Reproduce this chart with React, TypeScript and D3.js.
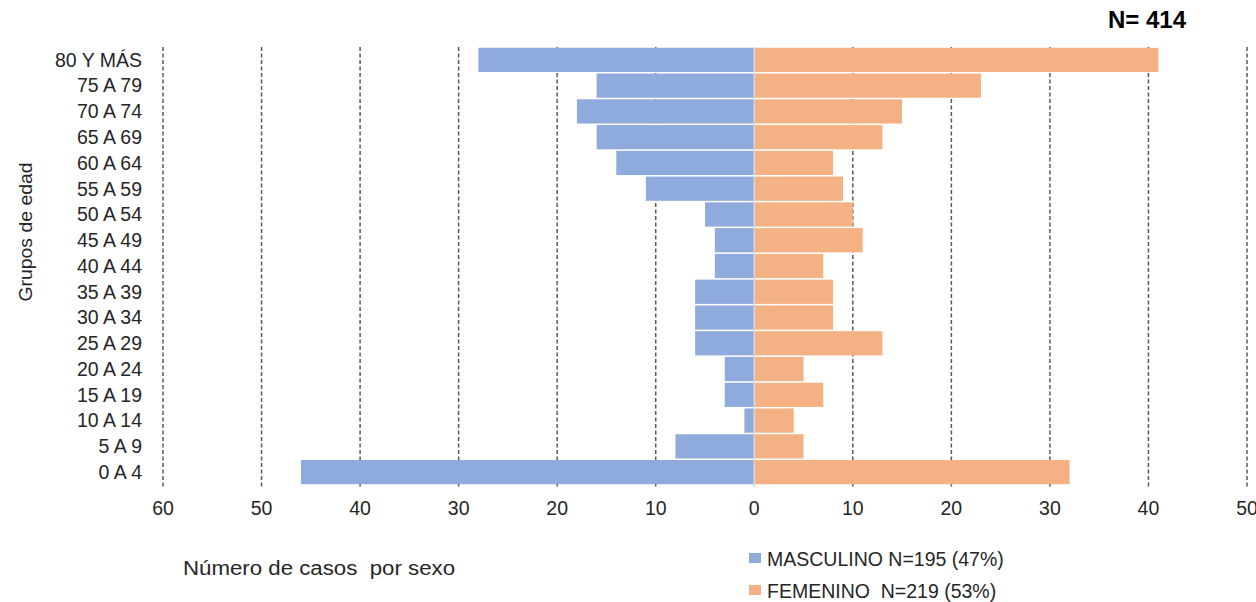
import React from "react";
import * as d3 from "d3";

const categories = ["80 Y MÁS","75 A 79","70 A 74","65 A 69","60 A 64","55 A 59","50 A 54","45 A 49","40 A 44","35 A 39","30 A 34","25 A 29","20 A 24","15 A 19","10 A 14","5 A 9","0 A 4"];
const masculino = [28,16,18,16,14,11,5,4,4,6,6,6,3,3,1,8,46];
const femenino = [41,23,15,13,8,9,10,11,7,8,8,13,5,7,4,5,32];
const ticks = [-60,-50,-40,-30,-20,-10,0,10,20,30,40,50];
const legendLabels = ["MASCULINO N=195 (47%)", "FEMENINO  N=219 (53%)"];
const colors = ["#8faadc", "#f4b183"];

export default function App() {
  const W = 1256, H = 602;
  const x = d3.scaleLinear().domain([-60, 50]).range([163, 1247]);
  const y = d3.scaleBand().domain(categories).range([47, 485]).paddingInner(0.06).paddingOuter(0.03);
  const font = "'Liberation Sans', Arial, sans-serif";
  return (
    <svg width={W} height={H} style={{ position: "absolute", left: 0, top: 0 }} fontFamily={font}>
      <rect width={W} height={H} fill="#fff" />
      {ticks.filter(t => t !== 0).map(t => (
        <line key={t} x1={x(t)} x2={x(t)} y1={47} y2={487} stroke="#595959" strokeWidth={1.5} strokeDasharray="4,2.5" />
      ))}
      {categories.map((c, i) => (
        <g key={c}>
          <rect x={x(-masculino[i])} y={y(c)} width={x(0) - x(-masculino[i])} height={y.bandwidth()} fill={colors[0]} />
          <rect x={x(0)} y={y(c)} width={x(femenino[i]) - x(0)} height={y.bandwidth()} fill={colors[1]} />
          <text x={142} y={y(c)! + y.bandwidth() / 2} dy="0.35em" textAnchor="end" fontSize={19.5} fill="#262626">{c}</text>
        </g>
      ))}
      <line x1={x(0)} x2={x(0)} y1={47} y2={487} stroke="#d9d9d9" strokeWidth={1.5} />
      {ticks.map(t => (
        <text key={t} x={x(t)} y={515} textAnchor="middle" fontSize={19.5} fill="#262626">{Math.abs(t)}</text>
      ))}
      <text transform="translate(32,232) rotate(-90)" textAnchor="middle" fontSize={19} fill="#262626" textLength={139} lengthAdjust="spacingAndGlyphs">Grupos de edad</text>
      <text x={183} y={575} fontSize={20} fill="#262626" textLength={272} lengthAdjust="spacingAndGlyphs" style={{ whiteSpace: "pre" }}>Número de casos  por sexo</text>
      <text x={1108} y={28} fontSize={24} fontWeight="bold" fill="#000">N= 414</text>
      {legendLabels.map((l, i) => (
        <g key={l}>
          <rect x={749} y={553 + i * 32} width={12} height={10} fill={colors[i]} />
          <text x={767} y={566 + i * 32} fontSize={19.5} fill="#262626" style={{ whiteSpace: "pre" }}>{l}</text>
        </g>
      ))}
    </svg>
  );
}
